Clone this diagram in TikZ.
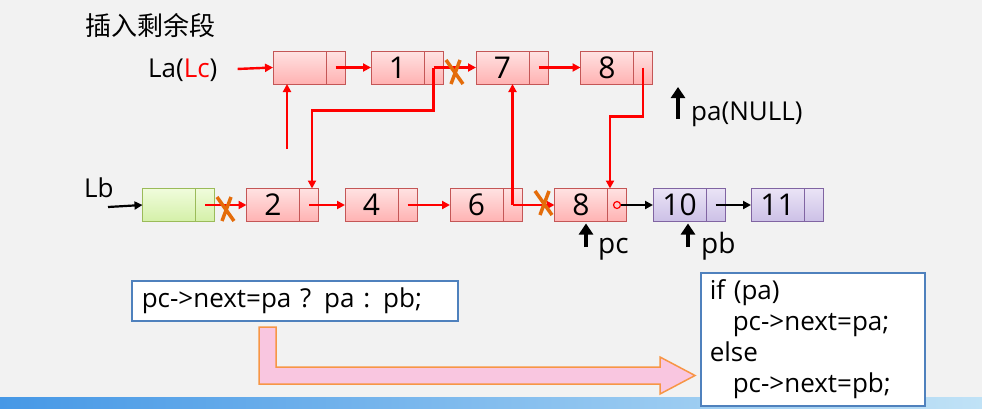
\documentclass[tikz,border=0pt]{standalone}
\usepackage{fontspec}
\setmainfont{Open Sans}
\newfontfamily\cjkfont{Noto Sans CJK SC}
\usetikzlibrary{arrows.meta,positioning,calc}
\definecolor{bggray}{RGB}{242,242,242}
\definecolor{linered}{RGB}{255,0,0}
\definecolor{nodered}{RGB}{196,86,86}
\definecolor{redtop}{RGB}{255,226,226}
\definecolor{redbot}{RGB}{255,178,178}
\definecolor{nodegreen}{RGB}{155,187,89}
\definecolor{greentop}{RGB}{240,252,220}
\definecolor{greenbot}{RGB}{212,240,168}
\definecolor{nodepurple}{RGB}{128,100,162}
\definecolor{purpletop}{RGB}{234,228,246}
\definecolor{purplebot}{RGB}{204,192,230}
\definecolor{crossorange}{RGB}{228,108,10}
\definecolor{boxblue}{RGB}{79,129,189}
\definecolor{arrowpink}{RGB}{249,198,224}
\definecolor{arroworange}{RGB}{247,150,70}
\definecolor{barleft}{RGB}{70,152,230}
\definecolor{barright}{RGB}{192,226,246}

\begin{document}
\begin{tikzpicture}[x=1pt, y=-1pt,
  cell/.style={draw, line width=1pt, inner sep=0pt, outer sep=0pt, minimum height=33pt},
  dat/.style={cell, minimum width=53pt, font=\fontsize{30}{32}\selectfont},
  ptr/.style={cell, minimum width=19pt},
  rn/.style={draw=nodered, top color=redtop, bottom color=redbot},
  gn/.style={draw=nodegreen, top color=greentop, bottom color=greenbot},
  pn/.style={draw=nodepurple, top color=purpletop, bottom color=purplebot},
  ra/.style={-{Triangle[length=8pt,width=8pt]}, line width=2.4pt, linered},
  ba/.style={-{Triangle[length=8pt,width=8pt]}, line width=2.2pt, black},
  up/.style={-{Triangle[length=11pt,width=14pt]}, line width=4.5pt, black},
  lbl/.style={font=\fontsize{26}{28}\selectfont, inner sep=0pt},
  xm/.style={line width=3.5pt, crossorange},
  xmark/.pic={\draw[xm] (-8,-12) -- (9,12) (6,-12) -- (-3,12);},
  codebox/.style={draw=boxblue, line width=1.5pt, fill=white, font=\fontsize{26}{31}\selectfont, align=left}
]
  \useasboundingbox (0,0) rectangle (982,408);
  \fill[bggray] (0,0) rectangle (982,408);
  \shade[left color=barleft, right color=barright] (0,397) rectangle (982,408);

  \node[anchor=west, inner sep=0pt, font=\cjkfont\fontsize{26}{28}\selectfont] (title) at (85,26) {插入剩余段};

  % list La
  \node[dat, rn] (ha) at (299.5,67.5) {};
  \node[ptr, rn, right=0pt of ha] (hap) {};
  \node[dat, rn] (n1) at (397.5,67.5) {1};
  \node[ptr, rn, right=0pt of n1] (n1p) {};
  \node[dat, rn] (n7) at (502.5,67.5) {7};
  \node[ptr, rn, right=0pt of n7] (n7p) {};
  \node[dat, rn] (t8) at (607,67.5) {8};
  \node[ptr, rn, right=0pt of t8] (t8p) {};

  % list Lb
  \node[dat, gn] (hb) at (169,205) {};
  \node[ptr, gn, right=0pt of hb] (hbp) {};
  \foreach \n/\x/\t in {n2/273/2, n4/371.5/4, n6/476.5/6, b8/581/8} {
    \node[dat, rn] (\n) at (\x,205) {\t};
    \node[ptr, rn, right=0pt of \n] (\n p) {};
  }
  \foreach \n/\x/\t in {n10/679.5/10, n11/777.5/11} {
    \node[dat, pn] (\n) at (\x,205) {\t};
    \node[ptr, pn, right=0pt of \n] (\n p) {};
  }

  % heads
  \node[lbl, anchor=base west] (la) at (148,77) {La(\textcolor{linered}{Lc})};
  \node[lbl, anchor=base west] (lb) at (84,197) {Lb};
  \coordinate (lbs) at (108,207);
  \draw[ra, shorten <=20pt] (la.east) -- (ha.west);
  \draw[ba] (lbs) -- (hb.west);

  % links
  \draw[ra] (hap.center) -- (n1.west);
  \draw[ra] (n1p.center) -- (n7.west);
  \draw[ra] (n7p.center) -- (t8.west);
  \draw[ra] (hbp.center) -- (n2.west);
  \draw[ra] (n2p.center) -- (n4.west);
  \draw[ra] (n4p.center) -- (n6.west);
  \draw[ra] (n6p.center) -- (b8.west);
  \draw[ba] (n10p.center) -- (n11.west);
  \node[circle, draw=linered, line width=1.2pt, minimum size=7pt, inner sep=0pt] (dot) at (b8p.center) {};
  \draw[ba] (dot) -- (n10.west);

  % merge
  \coordinate (hfree) at (287,149);
  \draw[ra] (hfree) -- (hfree |- ha.south);
  \draw[ra] (n1p.center) -- ++(0,43) -| ([xshift=3pt]n2p.north);
  \draw[ra] (n6p.center) -- (n6p.center |- n7.south);
  \draw[ra] (t8p.center) -- ++(0,49) -| ([xshift=-7pt]b8p.north);

  \pic at (454,72) {xmark};
  \pic at (225,209) {xmark};
  \pic at (543,203) {xmark};

  % pointers
  \coordinate (pabase) at (678,119);
  \coordinate (patip) at (678,87);
  \draw[up] (pabase) -- (patip);
  \node[lbl, anchor=base west] (pa) at (691,120) {pa(NULL)};
  \coordinate (pcbase) at (586,247);
  \draw[up, shorten >=2pt] (pcbase) -- ([xshift=5pt]b8.south);
  \node[lbl, anchor=base west, font=\fontsize{28}{30}\selectfont] (pc) at (598,253) {pc};
  \coordinate (pbbase) at (688,247);
  \draw[up, shorten >=2pt] (pbbase) -- ([xshift=8.5pt]n10.south);
  \node[lbl, anchor=base west, font=\fontsize{28}{30}\selectfont] (pb) at (701,253) {pb};

  % code
  \node[codebox, anchor=west, text width=306pt, inner xsep=10pt, minimum height=40pt] (expr) at (131,301) {pc->next=pa ? pa : pb;};
  \filldraw[fill=arrowpink, draw=arroworange, line width=1.5pt] (259,327) -- (276,327) -- (276,367) -- (660,367) -- (660,357) -- (695,375.5) -- (660,394) -- (660,384) -- (259,384) -- cycle;
  \node[codebox, anchor=north west, text width=206pt, inner xsep=9pt, minimum height=133pt] (cond) at (700,272) {if (pa)\\\hspace*{23pt}pc->next=pa;\\else\\\hspace*{23pt}pc->next=pb;};
\end{tikzpicture}
\end{document}
